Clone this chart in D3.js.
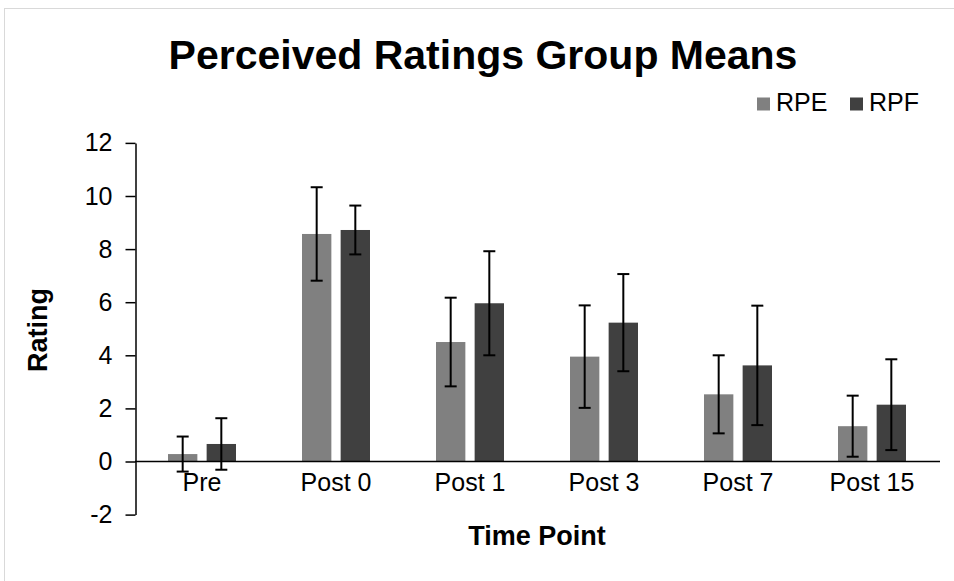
<!DOCTYPE html>
<html><head><meta charset="utf-8">
<script src="https://cdn.jsdelivr.net/npm/d3@7"></script>
<style>html,body{margin:0;padding:0;background:#fff;}svg{display:block;font-family:"Liberation Sans",Arial,sans-serif;}</style>
</head><body><svg id="c" width="954" height="581"></svg>
<script>
const categories = ["Pre","Post 0","Post 1","Post 3","Post 7","Post 15"];
const seriesNames = ["RPE","RPF"];
const rpeMeans = [0.28, 8.57, 4.50, 3.95, 2.53, 1.33];
const rpeErr   = [0.66, 1.76, 1.67, 1.93, 1.47, 1.15];
const rpfMeans = [0.66, 8.72, 5.96, 5.23, 3.62, 2.14];
const rpfErr   = [0.97, 0.92, 1.96, 1.83, 2.25, 1.71];
const yTicks = [-2,0,2,4,6,8,10,12];
const colors = ["#808080","#404040"];

const svg = d3.select("#c");
const FF = "Liberation Sans, Arial, sans-serif";
// outer border
svg.append("rect").attr("x",4.5).attr("y",8.5).attr("width",960).attr("height",600)
  .attr("fill","none").attr("stroke","#d9d9d9").attr("stroke-width",1);

const x0 = d3.scaleBand().domain(categories).range([135,939]);
const y = d3.scaleLinear().domain([-2,12]).range([514.6,142.9]);
const x1 = d3.scaleBand().domain(seriesNames).range([0,68]).paddingInner(0.24);

const series = [
  {name:"RPE", means:rpeMeans, err:rpeErr},
  {name:"RPF", means:rpfMeans, err:rpfErr}
];

// y axis
const yAxis = d3.axisLeft(y).tickValues(yTicks).tickFormat(d=>String(d)).tickSize(10).tickSizeOuter(0).tickPadding(13);
const gy = svg.append("g").attr("transform","translate(135.5,0)").call(yAxis);
gy.select(".domain").attr("stroke","#000").attr("stroke-width",1.5);
gy.selectAll(".tick line").attr("stroke","#000").attr("stroke-width",1.5);
gy.selectAll(".tick text").attr("font-size",25).attr("fill","#000").attr("font-family",FF);

// bars
series.forEach((s,si)=>{
  const g = svg.append("g");
  categories.forEach((c,i)=>{
    const cx = x0(c) + x0.bandwidth()/2 - 34 + x1(s.name);
    const v = s.means[i];
    g.append("rect").attr("x",cx).attr("width",x1.bandwidth())
      .attr("y",y(Math.max(0,v))).attr("height",Math.abs(y(v)-y(0)))
      .attr("fill",colors[si]);
  });
});

// x axis line at 0
svg.append("line").attr("x1",135).attr("x2",940).attr("y1",y(0)).attr("y2",y(0))
  .attr("stroke","#000").attr("stroke-width",1.5);

// error bars
series.forEach((s,si)=>{
  const g = svg.append("g").attr("stroke","#000").attr("stroke-width",2);
  categories.forEach((c,i)=>{
    const cx = x0(c) + x0.bandwidth()/2 - 34 + x1(s.name) + x1.bandwidth()/2;
    const hi = y(s.means[i]+s.err[i]), lo = y(s.means[i]-s.err[i]);
    g.append("line").attr("x1",cx).attr("x2",cx).attr("y1",hi).attr("y2",lo);
    g.append("line").attr("x1",cx-6).attr("x2",cx+6).attr("y1",hi).attr("y2",hi);
    g.append("line").attr("x1",cx-6).attr("x2",cx+6).attr("y1",lo).attr("y2",lo);
  });
});

// x labels
svg.append("g").selectAll("text").data(categories).join("text")
  .attr("x",d=>x0(d)+x0.bandwidth()/2).attr("y",491)
  .attr("text-anchor","middle").attr("font-size",25).attr("fill","#000").text(d=>d);

// title
svg.append("text").attr("x",483).attr("y",69).attr("text-anchor","middle")
  .attr("font-size",41).attr("font-weight","bold").text("Perceived Ratings Group Means");

// axis titles
svg.append("text").attr("x",537).attr("y",545).attr("text-anchor","middle")
  .attr("font-size",27).attr("font-weight","bold").text("Time Point");
svg.append("text").attr("transform","translate(47,330) rotate(-90)").attr("text-anchor","middle")
  .attr("font-size",27).attr("font-weight","bold").text("Rating");

// legend
const leg = svg.append("g");
const legX = [757, 850];
seriesNames.forEach((n,i)=>{
  leg.append("rect").attr("x",legX[i]).attr("y",97.5).attr("width",13).attr("height",13).attr("fill",colors[i]);
  leg.append("text").attr("x",legX[i]+19).attr("y",111).attr("font-size",25).attr("fill","#000").text(n);
});
</script></body></html>
